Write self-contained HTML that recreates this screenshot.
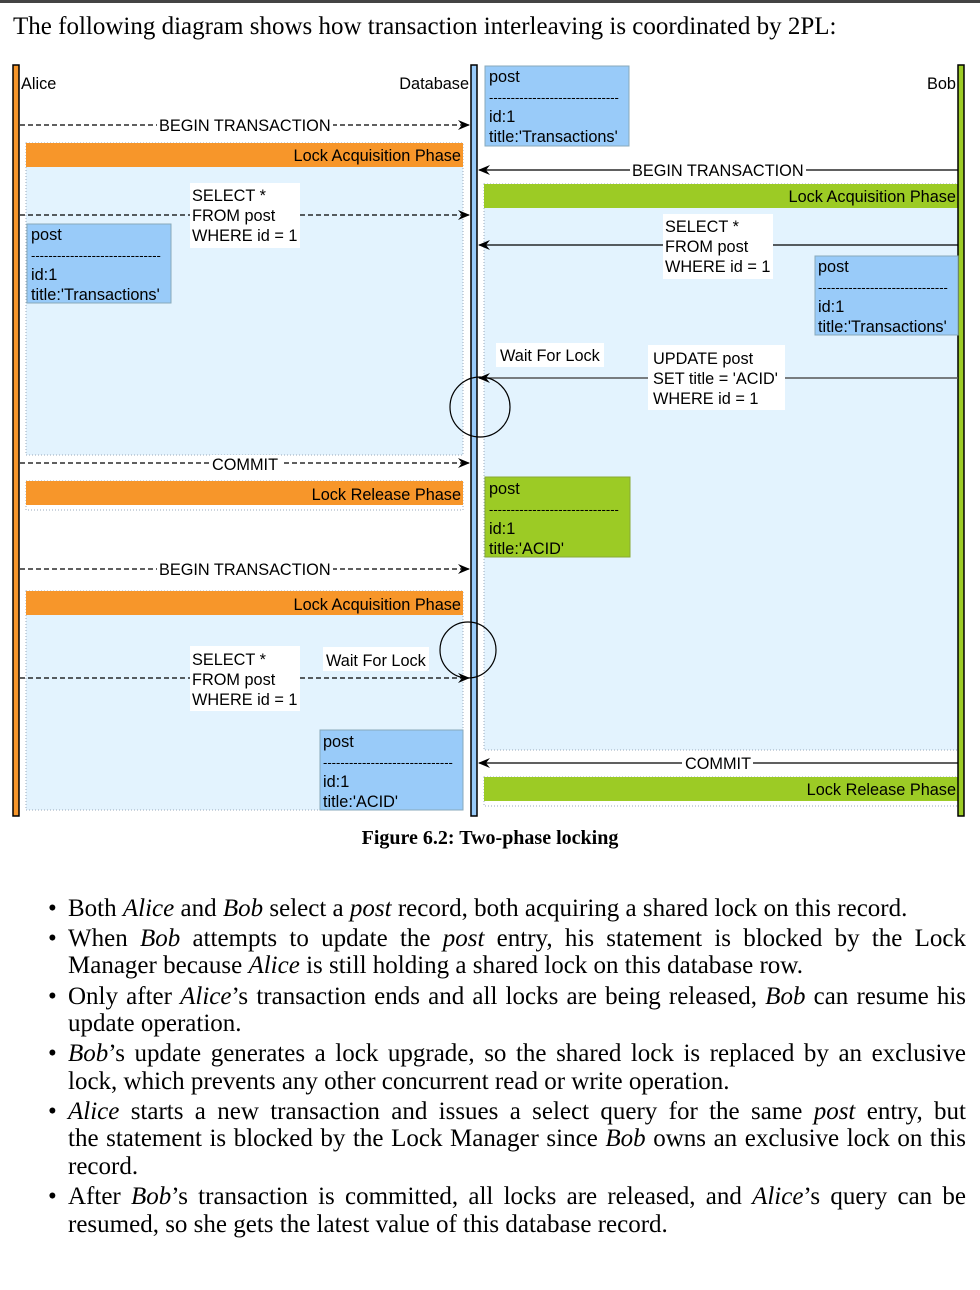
<!DOCTYPE html>
<html><head><meta charset="utf-8"><style>
body{margin:0;width:980px;height:1290px;background:#fff;position:relative;overflow:hidden}
.top{position:absolute;left:0;top:0;width:980px;height:3px;background:#444}
.h{position:absolute;left:13px;top:13px;font:25px "Liberation Serif",serif;color:#000;white-space:nowrap}
svg{position:absolute;left:0;top:0}
.cap{position:absolute;left:0;width:980px;top:827px;text-align:center;font:bold 20px "Liberation Serif",serif}
.l{position:absolute;left:68px;width:898px;font:25px "Liberation Serif",serif;white-space:nowrap;line-height:28px}
.j{text-align:justify;text-align-last:justify}
.b{position:absolute;left:48px;font:25px "Liberation Serif",serif;line-height:28px}
i{font-style:italic}
</style></head><body>
<div class="top"></div>
<div class="h">The following diagram shows how transaction interleaving is coordinated by 2PL:</div>
<svg width="980" height="830" viewBox="0 0 980 830" font-family="Liberation Sans, sans-serif" font-size="16.3">
<defs>
<marker id="a" markerWidth="12" markerHeight="10" refX="11" refY="5" orient="auto" markerUnits="userSpaceOnUse"><path d="M0,0 L12,5 L0,10 L4,5 z" fill="#000"/></marker>
</defs>
<rect x="26" y="143" width="437" height="312" fill="#e3f3fe" stroke="#9ab" stroke-dasharray="1,2"/>
<rect x="26" y="143" width="437" height="24" fill="#f7962a"/>
<text x="461" y="161" text-anchor="end">Lock Acquisition Phase</text>
<rect x="26" y="481" width="437" height="29" fill="#fff" stroke="#9ab" stroke-dasharray="1,2"/>
<rect x="26" y="481" width="437" height="24" fill="#f7962a"/>
<text x="461" y="500" text-anchor="end">Lock Release Phase</text>
<rect x="26" y="591" width="437" height="219" fill="#e3f3fe" stroke="#9ab" stroke-dasharray="1,2"/>
<rect x="26" y="591" width="437" height="24" fill="#f7962a"/>
<text x="461" y="610" text-anchor="end">Lock Acquisition Phase</text>
<rect x="484" y="184" width="474" height="566" fill="#e3f3fe" stroke="#9ab" stroke-dasharray="1,2"/>
<rect x="484" y="184" width="474" height="24" fill="#9ccb25"/>
<text x="956" y="202" text-anchor="end">Lock Acquisition Phase</text>
<rect x="484" y="777" width="474" height="29" fill="#fff" stroke="#9ab" stroke-dasharray="1,2"/>
<rect x="484" y="777" width="474" height="24" fill="#9ccb25"/>
<text x="956" y="795" text-anchor="end">Lock Release Phase</text>
<rect x="13" y="65" width="6" height="751" fill="#f7962a" stroke="#000" stroke-width="1.5"/>
<rect x="471" y="65" width="6" height="751" fill="#99cbf9" stroke="#000" stroke-width="1.5"/>
<rect x="958" y="65" width="6" height="751" fill="#9ccb25" stroke="#000" stroke-width="1.5"/>
<text x="21" y="89">Alice</text>
<text x="469" y="89" text-anchor="end">Database</text>
<text x="956" y="89" text-anchor="end">Bob</text>
<g>
<rect x="485" y="66" width="144" height="80" fill="#99cbf9" stroke="#8ab"/>
<text x="489" y="82">post</text><text x="489" y="102" font-size="13">------------------------------</text>
<text x="489" y="122">id:1</text><text x="489" y="142">title:'Transactions'</text>
</g>
<g>
<rect x="27" y="224" width="144" height="79" fill="#99cbf9" stroke="#8ab"/>
<text x="31" y="240">post</text><text x="31" y="260" font-size="13">------------------------------</text>
<text x="31" y="280">id:1</text><text x="31" y="300">title:'Transactions'</text>
</g>
<g>
<rect x="815" y="256" width="143" height="79" fill="#99cbf9" stroke="#8ab"/>
<text x="818" y="272">post</text><text x="818" y="292" font-size="13">------------------------------</text>
<text x="818" y="312">id:1</text><text x="818" y="332">title:'Transactions'</text>
</g>
<g>
<rect x="485" y="477" width="145" height="80" fill="#9ccb25" stroke="#8a3"/>
<text x="489" y="494">post</text><text x="489" y="514" font-size="13">------------------------------</text>
<text x="489" y="534">id:1</text><text x="489" y="554">title:'ACID'</text>
</g>
<g>
<rect x="320" y="730" width="143" height="80" fill="#99cbf9" stroke="#8ab"/>
<text x="323" y="747">post</text><text x="323" y="767" font-size="13">------------------------------</text>
<text x="323" y="787">id:1</text><text x="323" y="807">title:'ACID'</text>
</g>
<g stroke="#000" stroke-width="1.2" stroke-dasharray="5,3" fill="none">
<line x1="20" y1="125" x2="469" y2="125" marker-end="url(#a)"/>
<line x1="20" y1="215" x2="469" y2="215" marker-end="url(#a)"/>
<line x1="20" y1="463" x2="469" y2="463" marker-end="url(#a)"/>
<line x1="20" y1="569" x2="469" y2="569" marker-end="url(#a)"/>
<line x1="20" y1="678" x2="469" y2="678" marker-end="url(#a)"/>
</g>
<rect x="157" y="116" width="176" height="18" fill="#fff"/>
<text x="159" y="131">BEGIN TRANSACTION</text>
<rect x="190" y="183" width="110" height="65" fill="#fff"/>
<text x="192" y="201">SELECT *</text><text x="192" y="221">FROM post</text><text x="192" y="241">WHERE id = 1</text>
<rect x="210" y="455" width="71" height="18" fill="#fff"/>
<text x="212" y="470">COMMIT</text>
<rect x="157" y="560" width="176" height="18" fill="#fff"/>
<text x="159" y="575">BEGIN TRANSACTION</text>
<rect x="190" y="646" width="110" height="65" fill="#fff"/>
<text x="192" y="665">SELECT *</text><text x="192" y="685">FROM post</text><text x="192" y="705">WHERE id = 1</text>
<rect x="323" y="647" width="106" height="24" fill="#fff"/>
<text x="326" y="666">Wait For Lock</text>
<g stroke="#000" stroke-width="1.2" fill="none">
<line x1="958" y1="170" x2="479" y2="170" marker-end="url(#a)"/>
<line x1="958" y1="245" x2="479" y2="245" marker-end="url(#a)"/>
<line x1="958" y1="378" x2="479" y2="378" marker-end="url(#a)" stroke="#555" stroke-width="1.5"/>
<line x1="958" y1="763" x2="479" y2="763" marker-end="url(#a)"/>
<circle cx="480" cy="407" r="30"/>
<circle cx="468" cy="650" r="28"/>
</g>
<rect x="630" y="161" width="176" height="18" fill="#fff"/>
<text x="632" y="176">BEGIN TRANSACTION</text>
<rect x="663" y="214" width="110" height="65" fill="#fff"/>
<text x="665" y="232">SELECT *</text><text x="665" y="252">FROM post</text><text x="665" y="272">WHERE id = 1</text>
<rect x="496" y="343" width="108" height="24" fill="#fff"/>
<text x="500" y="361">Wait For Lock</text>
<rect x="648" y="345" width="137" height="65" fill="#fff"/>
<text x="653" y="364">UPDATE post</text><text x="653" y="384">SET title = 'ACID'</text><text x="653" y="404">WHERE id = 1</text>
<rect x="682" y="754" width="71" height="18" fill="#fff"/>
<text x="685" y="769">COMMIT</text>
</svg>
<div class="cap">Figure 6.2: Two-phase locking</div>
<div class="b" style="top:895px">•</div><div class="l" style="top:895px">Both <i>Alice</i> and <i>Bob</i> select a <i>post</i> record, both acquiring a shared lock on this record.</div>
<div class="b" style="top:925px">•</div><div class="l j" style="top:925px">When <i>Bob</i> attempts to update the <i>post</i> entry, his statement is blocked by the Lock</div>
<div class="l" style="top:952px">Manager because <i>Alice</i> is still holding a shared lock on this database row.</div>
<div class="b" style="top:983px">•</div><div class="l j" style="top:983px">Only after <i>Alice</i>’s transaction ends and all locks are being released, <i>Bob</i> can resume his</div>
<div class="l" style="top:1010px">update operation.</div>
<div class="b" style="top:1040px">•</div><div class="l j" style="top:1040px"><i>Bob</i>’s update generates a lock upgrade, so the shared lock is replaced by an exclusive</div>
<div class="l" style="top:1068px">lock, which prevents any other concurrent read or write operation.</div>
<div class="b" style="top:1098px">•</div><div class="l j" style="top:1098px"><i>Alice</i> starts a new transaction and issues a select query for the same <i>post</i> entry, but</div>
<div class="l j" style="top:1125px">the statement is blocked by the Lock Manager since <i>Bob</i> owns an exclusive lock on this</div>
<div class="l" style="top:1153px">record.</div>
<div class="b" style="top:1183px">•</div><div class="l j" style="top:1183px">After <i>Bob</i>’s transaction is committed, all locks are released, and <i>Alice</i>’s query can be</div>
<div class="l" style="top:1211px">resumed, so she gets the latest value of this database record.</div>
</body></html>
